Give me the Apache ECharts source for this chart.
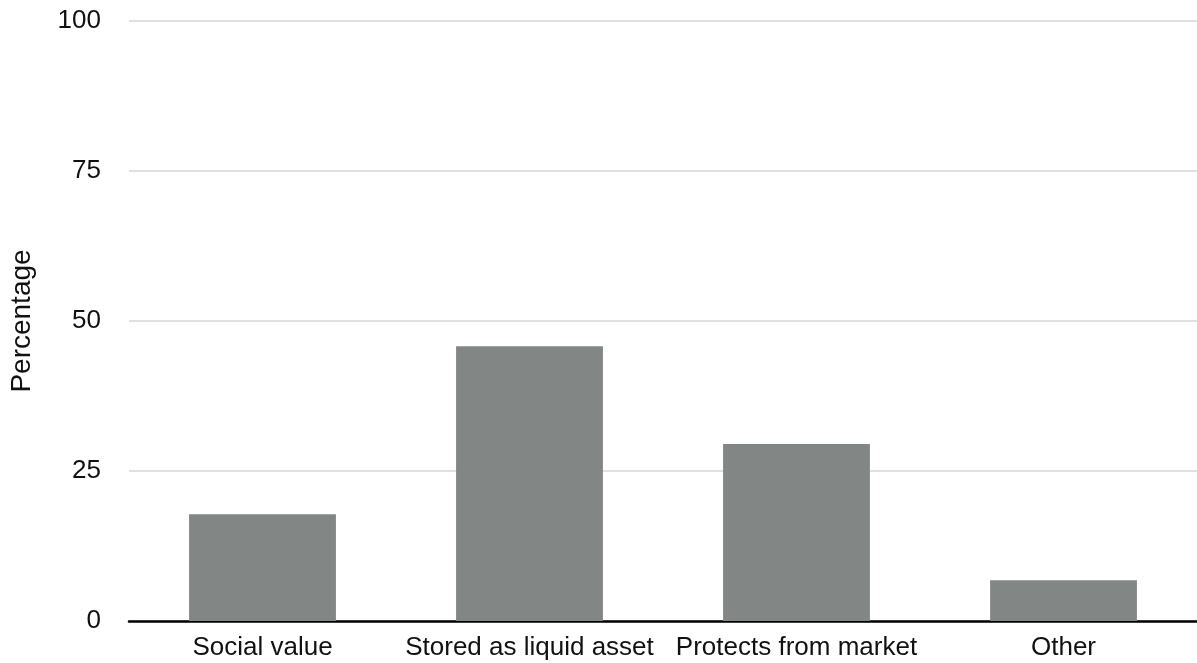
<!DOCTYPE html>
<html>
<head>
<meta charset="utf-8">
<script src="https://cdn.jsdelivr.net/npm/echarts@6/dist/echarts.min.js"></script>
<style>
  html, body { margin: 0; padding: 0; background: #fff; }
  #chart { width: 1197px; height: 663px; }
</style>
</head>
<body>
<div id="chart"></div>
<script>
// Reasons given for holding the asset (percentage of respondents)
const categories = ['Social value', 'Stored as liquid asset', 'Protects from market', 'Other'];
const percentages = [17.8, 45.8, 29.5, 6.8];
const yTicks = [0, 25, 50, 75, 100];

const FONT = '"Liberation Sans", Arial, Helvetica, sans-serif';

const chart = echarts.init(document.getElementById('chart'), null, { renderer: 'canvas' });
chart.setOption({
  animation: false,
  backgroundColor: '#ffffff',
  grid: { left: 129, right: 0, top: 21, bottom: 42, containLabel: false },
  xAxis: {
    type: 'category',
    data: categories,
    axisLine: { show: true, lineStyle: { color: '#000000', width: 2.5 } },
    axisTick: { show: false },
    axisLabel: { color: '#111111', fontFamily: FONT, fontSize: 26, margin: 14, interval: 0 }
  },
  yAxis: {
    type: 'value',
    min: yTicks[0],
    max: yTicks[yTicks.length - 1],
    interval: yTicks[1] - yTicks[0],
    name: 'Percentage',
    nameLocation: 'middle',
    nameGap: 93,
    nameTextStyle: { color: '#111111', fontFamily: FONT, fontSize: 28 },
    axisLine: { show: false },
    axisTick: { show: false },
    axisLabel: { color: '#111111', fontFamily: FONT, fontSize: 26, margin: 28 },
    splitLine: { show: true, lineStyle: { color: '#d6d6d6', width: 1.5 } }
  },
  series: [{
    type: 'bar',
    data: percentages,
    barWidth: '55%',
    itemStyle: { color: '#828785' }
  }]
});
</script>
</body>
</html>
